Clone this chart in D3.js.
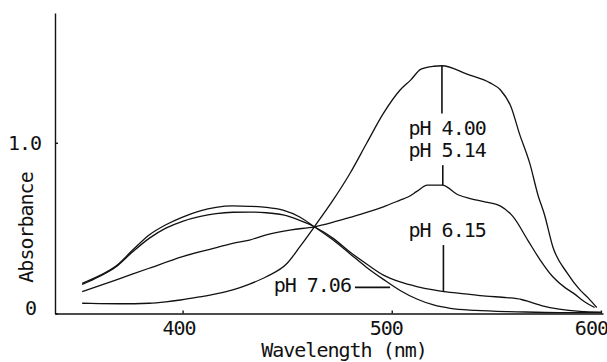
<!DOCTYPE html>
<html>
<head>
<meta charset="utf-8">
<script src="https://cdn.jsdelivr.net/npm/d3@7"></script>
<style>
  html, body { margin: 0; padding: 0; background: #fff; }
  text { font-family: "DejaVu Sans Mono", monospace; font-size: 20px; letter-spacing: -1px; fill: #111; }
</style>
</head>
<body>
<svg id="chart" width="607" height="362"></svg>
<script>
// spectra: [wavelength nm, absorbance]
const ph400 = [
  [352, 0.06], [360, 0.058], [370, 0.057], [384, 0.06], [392, 0.068], [399, 0.079],
  [408, 0.097], [416, 0.115], [424, 0.138], [432, 0.172], [440, 0.215], [450, 0.294],
  [456, 0.39], [463, 0.508], [472, 0.665], [480, 0.82], [488, 0.997], [496, 1.172],
  [504, 1.309], [509, 1.367], [514, 1.431], [520, 1.448], [524, 1.451], [536, 1.402],
  [547, 1.351], [552, 1.309], [557, 1.211], [561, 1.055], [566, 0.879], [570, 0.69],
  [573, 0.58], [577, 0.391], [584, 0.235], [590, 0.138], [594, 0.09], [598, 0.035]
];
const ph514 = [
  [352, 0.128], [368, 0.196], [384, 0.265], [400, 0.333], [413, 0.376], [424, 0.411],
  [432, 0.43], [440, 0.46], [452, 0.49], [463, 0.508], [472, 0.535], [480, 0.563],
  [488, 0.592], [496, 0.625], [504, 0.664], [508, 0.684], [512, 0.715], [517, 0.752],
  [524, 0.752], [532, 0.694], [538, 0.672], [544, 0.655], [552, 0.629], [558, 0.567],
  [565, 0.43], [571, 0.313], [577, 0.215], [583, 0.15], [587, 0.118], [592, 0.07], [597, 0.035]
];
const ph615 = [
  [352, 0.17], [360, 0.215], [368, 0.272], [376, 0.36], [384, 0.44], [392, 0.5],
  [400, 0.54], [408, 0.567], [416, 0.585], [424, 0.593], [432, 0.594], [440, 0.59],
  [448, 0.577], [456, 0.545], [463, 0.508], [472, 0.44], [480, 0.36], [488, 0.29],
  [496, 0.225], [504, 0.185], [512, 0.158], [520, 0.138], [525, 0.128], [535, 0.115],
  [545, 0.102], [555, 0.093], [562, 0.082], [566, 0.068], [572, 0.045], [580, 0.025],
  [590, 0.012], [600, 0.008]
];
const ph706 = [
  [352, 0.177], [360, 0.22], [368, 0.276], [376, 0.37], [384, 0.46], [392, 0.52],
  [400, 0.565], [408, 0.6], [416, 0.622], [424, 0.63], [432, 0.628], [440, 0.622],
  [448, 0.605], [456, 0.565], [463, 0.508], [472, 0.43], [480, 0.35], [488, 0.27],
  [496, 0.2], [504, 0.135], [512, 0.085], [520, 0.05], [528, 0.03], [540, 0.018],
  [560, 0.01], [580, 0.005], [600, 0.005]
];

const xTicks = [400, 500, 600];
const yTicks = [0, 1.0];
const yTickLabels = ['0', '1.0'];

// curve labels: text, wavelength, absorbance of baseline, anchor
const labels = [
  { text: 'pH 4.00', wl: 508, a: 1.045, anchor: 'start' },
  { text: 'pH 5.14', wl: 508, a: 0.918, anchor: 'start' },
  { text: 'pH 6.15', wl: 508, a: 0.45, anchor: 'start' },
  { text: 'pH 7.06', wl: 480.5, a: 0.128, anchor: 'end' }
];
// leader lines: [wl1, a1, wl2, a2]
const leaders = [
  [524, 1.451, 524, 1.172],
  [524.4, 0.869, 524.4, 0.752],
  [524.7, 0.401, 524.7, 0.128],
  [482.4, 0.153, 499.2, 0.153]
];

const svg = d3.select('#chart');
const x = d3.scaleLinear().domain([339, 601]).range([55, 603]);
const y = d3.scaleLinear().domain([0, 1.76]).range([313.5, 13]);

const line = d3.line()
  .x(d => x(d[0]))
  .y(d => y(d[1]))
  .curve(d3.curveMonotoneX);

// axes
const xAxis = svg.append('g')
  .attr('transform', `translate(0,${y(0)})`)
  .call(d3.axisBottom(x).tickValues(xTicks).tickSizeInner(-3).tickSizeOuter(0).tickPadding(7));
// labels in the scan sit a little left of their ticks
const xLabelShift = { 400: -4, 500: -6, 600: -10 };
xAxis.selectAll('text').attr('dx', d => xLabelShift[d]);

const yAxis = svg.append('g')
  .attr('transform', `translate(${x(339)},0)`)
  .call(d3.axisLeft(y).tickValues(yTicks).tickSizeInner(-3).tickSizeOuter(0).tickPadding(14)
    .tickFormat((d, i) => yTickLabels[i]));
yAxis.selectAll('text').filter(d => d === 0).attr('dx', -5).attr('dy', '0.07em');

svg.selectAll('.domain, .tick line').attr('stroke', '#111').attr('stroke-width', 1.4);
svg.selectAll('.tick text').attr('font-family', null).attr('font-size', null).attr('fill', '#111');

// axis titles
svg.append('text')
  .attr('transform', 'translate(33,227.5) rotate(-90)')
  .attr('text-anchor', 'middle')
  .text('Absorbance');
svg.append('text')
  .attr('x', 344).attr('y', 357)
  .attr('text-anchor', 'middle')
  .text('Wavelength (nm)');

// spectra
svg.selectAll('.spectrum')
  .data([ph400, ph514, ph615, ph706])
  .enter().append('path')
  .attr('class', 'spectrum')
  .attr('d', line)
  .attr('fill', 'none')
  .attr('stroke', '#111')
  .attr('stroke-width', 1.3);

// leaders and labels
svg.selectAll('.leader')
  .data(leaders)
  .enter().append('line')
  .attr('x1', d => x(d[0])).attr('y1', d => y(d[1]))
  .attr('x2', d => x(d[2])).attr('y2', d => y(d[3]))
  .attr('stroke', '#111')
  .attr('stroke-width', 1.6);

svg.selectAll('.lbl')
  .data(labels)
  .enter().append('text')
  .attr('x', d => x(d.wl))
  .attr('y', d => y(d.a))
  .attr('text-anchor', d => d.anchor)
  .text(d => d.text);
</script>
</body>
</html>
